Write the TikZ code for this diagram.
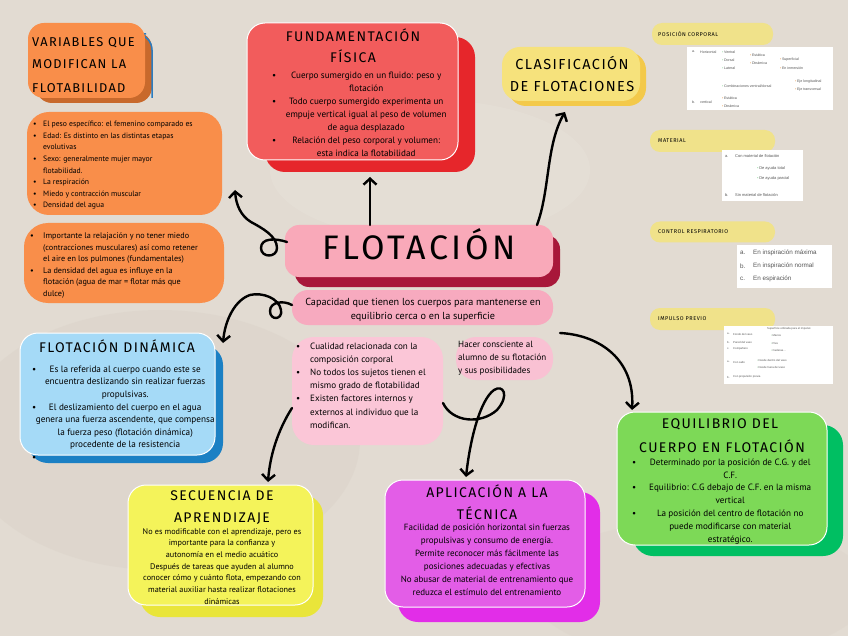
\documentclass[tikz,border=0pt]{standalone}
\usepackage{fontspec}
\setmainfont{PT Sans}
\newfontfamily\ttl[LetterSpace=10]{Fira Sans}
\newfontfamily\tbl{Liberation Sans}
\usetikzlibrary{arrows.meta,calc}
\definecolor{bgc}{HTML}{E2DBD2}
\definecolor{bgd}{HTML}{D3CBC0}
\definecolor{bgl}{HTML}{EBE6DF}
\definecolor{orc}{HTML}{F98E4A}
\definecolor{ors}{HTML}{C8692C}
\definecolor{orb}{HTML}{2B7CC0}
\definecolor{rdc}{HTML}{F25C5C}
\definecolor{rds}{HTML}{E6262B}
\definecolor{ylc}{HTML}{F6E27C}
\definecolor{yls}{HTML}{F3C94A}
\definecolor{pillc}{HTML}{F0E28A}
\definecolor{pkc}{HTML}{F9A9B9}
\definecolor{pks}{HTML}{A8173A}
\definecolor{capc}{HTML}{F7AABF}
\definecolor{lpk}{HTML}{FBC6D7}
\definecolor{lpk2}{HTML}{F9C1D3}
\definecolor{blc}{HTML}{A5DAF7}
\definecolor{bls}{HTML}{1B80C4}
\definecolor{sqc}{HTML}{F4F35A}
\definecolor{sqs}{HTML}{E9E53A}
\definecolor{mgc}{HTML}{E35DE7}
\definecolor{mgs}{HTML}{E22DE8}
\definecolor{grc}{HTML}{7DD957}
\definecolor{grs}{HTML}{00BF62}
\definecolor{tabc}{HTML}{555555}
\definecolor{dotg}{HTML}{8FD69A}
\definecolor{doto}{HTML}{E9A15A}
\newcommand\gd{\textcolor{dotg}{\textbullet}\,}
\newcommand\od{\textcolor{doto}{\textbullet}\,}
\newcommand\cbl[2]{\makebox[12pt][l]{\textbullet}\makebox[#1][c]{#2}}
\newcommand\cnl[2]{\hspace*{12pt}\makebox[#1][c]{#2}}
\newcommand\lbl[2]{\makebox[#1][l]{\textbullet}#2}
\newcommand\lnl[2]{\hspace*{#1}#2}
\begin{document}
\begin{tikzpicture}[x=1pt,y=-1pt,
  conn/.style={draw=black, line width=2.4pt, line cap=round, line join=round, -{Straight Barb[length=6pt,width=13pt]}},
  box/.style={rounded corners=18pt, draw=white, line width=1pt, inner sep=0, outer sep=0},
  pill/.style={rounded corners=10pt, fill=pillc, inner sep=0},
  ttlA/.style={inner sep=0, font=\ttl\fontsize{14}{16}\selectfont, anchor=base},
  pilltxt/.style={inner sep=0, anchor=west, font=\ttl\fontsize{5.5}{6}\selectfont},
  body/.style={inner sep=0, align=left, anchor=north west},
  tab/.style={fill=white, inner sep=0},
  tt/.style={inner sep=0, anchor=west, text=tabc, font=\tbl\fontsize{3.6}{4}\selectfont},
]
\useasboundingbox (0,0) rectangle (848,636);
\fill[bgc] (0,0) rectangle (848,636);
\fill[bgd, opacity=0.25] (160,440) ellipse (200 and 130);
\fill[bgd, opacity=0.2] (700,590) ellipse (170 and 70);
\fill[bgl, opacity=0.3] (430,170) ellipse (160 and 70);

% ---------- VARIABLES ----------
\fill[ors, rounded corners=16pt] (36,32) rectangle (152,103);
\draw[orb, line width=1.5pt, rounded corners=16pt] (146,34) -- (152,34) -- (152,98);
\node[box, draw=none, rounded corners=16pt, fill=orc, minimum width=117pt, minimum height=75pt] (vart) at (86.5,60.5) {};
\node[ttlA, anchor=base west, font=\ttl\fontsize{12.8}{15}\selectfont] (vt1) at (32,47) {VARIABLES QUE};
\node[ttlA, anchor=base west, font=\ttl\fontsize{12.8}{15}\selectfont] (vt2) at (32,69) {MODIFICAN LA};
\node[ttlA, anchor=base west, font=\ttl\fontsize{12.8}{15}\selectfont] (vt3) at (32,93) {FLOTABILIDAD};

\node[box, draw=none, rounded corners=22pt, fill=orc, minimum width=195pt, minimum height=103pt] (var1) at (124.5,163.5) {};
\node[body, font=\fontsize{7.7}{11.6}\selectfont] (var1t) at (33,121) {%
\lbl{10pt}{El peso específico: el femenino comparado es}\\
\lbl{10pt}{Edad: Es distinto en las distintas etapas}\\
\lnl{10pt}{evolutivas}\\
\lbl{10pt}{Sexo: generalmente mujer mayor}\\
\lnl{10pt}{flotabilidad.}\\
\lbl{10pt}{La respiración}\\
\lbl{10pt}{Miedo y contracción muscular}\\
\lbl{10pt}{Densidad del agua}};

\node[box, draw=none, rounded corners=24pt, fill=orc, minimum width=200pt, minimum height=80pt] (var2) at (124,263) {};
\node[body, font=\fontsize{8.2}{11.5}\selectfont] (var2t) at (30,232.5) {%
\lbl{13pt}{Importante la relajación y no tener miedo}\\
\lnl{13pt}{(contracciones musculares) así como retener}\\
\lnl{13pt}{el aire en los pulmones (fundamentales)}\\
\lbl{13pt}{La densidad del agua es influye en la}\\
\lnl{13pt}{flotación (agua de mar = flotar más que}\\
\lnl{13pt}{dulce)}};

% ---------- FUNDAMENTACION ----------
\fill[rds, rounded corners=20pt] (265,37) rectangle (475,172);
\node[box, fill=rdc, minimum width=211pt, minimum height=137pt] (fund) at (352.5,91.5) {};
\node[ttlA] (ft1) at (353,42) {FUNDAMENTACIÓN};
\node[ttlA] (ft2) at (353,63) {FÍSICA};
\node[body, font=\fontsize{9.1}{13}\selectfont] (fundt) at (272,72) {%
\cbl{164pt}{Cuerpo sumergido en un fluido: peso y}\\
\cnl{164pt}{flotación}\\
\cbl{164pt}{Todo cuerpo sumergido experimenta un}\\
\cnl{164pt}{empuje vertical igual al peso de volumen}\\
\cnl{164pt}{de agua desplazado}\\
\cbl{164pt}{Relación del peso corporal y volumen:}\\
\cnl{164pt}{esta indica la flotabilidad}};

% ---------- CLASIFICACION ----------
\fill[yls, rounded corners=18pt] (508,52) rectangle (646,106);
\node[box, draw=none, fill=ylc, minimum width=138pt, minimum height=54pt] (clas) at (571,74) {};
\node[ttlA, font=\ttl\fontsize{14.5}{16}\selectfont] (ct1) at (572,70) {CLASIFICACIÓN};
\node[ttlA, font=\ttl\fontsize{14.5}{16}\selectfont] (ct2) at (572,92) {DE FLOTACIONES};

% ---------- RIGHT PANELS ----------
\node[pill, minimum width=121pt, minimum height=22pt] (posp) at (712.5,34) {};
\node[pilltxt] (posl) at (658,34) {POSICIÓN CORPORAL};
\node[tab, minimum width=146pt, minimum height=63pt] (post) at (760,78.5) {};
\foreach \x/\y/\t [count=\i] in {692/52/a., 700/52/Horizontal, 722/52/{\gd Ventral}, 722/60/{\gd Dorsal}, 722/68/{\gd Lateral}, 750/55/{\od Estática}, 750/63/{\od Dinámica}, 780/60/{\od Superficial}, 780/68/{\od En inmersión}, 722/86/{\gd Combinaciones ventral/dorsal}, 795/82/{\od Eje longitudinal}, 795/90/{\od Eje transversal}, 692/102/b., 700/102/vertical, 722/98/{\od Estática}, 722/106/{\od Dinámica}}
  \node[tt] (pt\i) at (\x,\y) {\t};

\node[pill, minimum width=125pt, minimum height=22pt] (matp) at (712.5,141) {};
\node[pilltxt] (matl) at (658,141) {MATERIAL};
\node[tab, minimum width=81pt, minimum height=51pt] (matt) at (762.5,175.5) {};
\foreach \x/\y/\t [count=\i] in {725/156/a., 735/156/{Con material de flotación}, 757/168/{\gd De ayuda total}, 757/178/{\gd De ayuda parcial}, 725/195/b., 735/195/{Sin material de flotación}}
  \node[tt, font=\tbl\fontsize{4}{5}\selectfont] (mt\i) at (\x,\y) {\t};

\node[pill, minimum width=125pt, minimum height=21pt] (resp) at (712.5,232) {};
\node[pilltxt] (resl) at (658,232) {CONTROL RESPIRATORIO};
\node[tab, minimum width=95pt, minimum height=43pt] (rest) at (784.5,266.5) {};
\foreach \x/\y/\t [count=\i] in {740/253/a., 753/253/{En inspiración máxima}, 740/266/b., 753/266/{En inspiración normal}, 740/279/c., 753/279/{En espiración}}
  \node[tt, font=\tbl\fontsize{6.3}{7}\selectfont] (rt\i) at (\x,\y) {\t};

\node[pill, minimum width=125pt, minimum height=22pt] (impp) at (712.5,319) {};
\node[pilltxt] (impl) at (658,319) {IMPULSO PREVIO};
\node[tab, minimum width=109pt, minimum height=58pt] (impt) at (778.5,355) {};
\foreach \x/\y/\t [count=\i] in {727/334/a., 733/334/{Fondo del vaso}, 727/342/b., 733/342/{Pared del vaso}, 727/349/c., 733/349/{Compañero}, 767/329/{Superficie utilizada para el impulso:}, 771/336/{\gd Manos}, 771/343/{\gd Pies}, 771/350/{\gd Caderas\ldots}, 727/362/a., 733/362/{Con salto}, 757/360/{\gd Desde dentro del vaso}, 757/367/{\gd Desde fuera del vaso}, 727/377/b., 733/377/{Con propulsión previa}}
  \node[tt, font=\tbl\fontsize{2.8}{3}\selectfont] (it\i) at (\x,\y) {\t};

% ---------- FLOTACION ----------
\fill[pks, rounded corners=14pt] (295,235) rectangle (560,287);
\node[box, draw=none, rounded corners=14pt, fill=pkc, minimum width=268pt, minimum height=52pt] (flot) at (419,251) {};
\node[inner sep=0, anchor=base, font=\ttl\fontsize{34}{36}\selectfont] (flott) at (419,260) {FLOTACIÓN};

\node[box, draw=none, rounded corners=16pt, fill=capc, minimum width=261pt, minimum height=35pt] (cap) at (422.5,307.5) {};
\node[inner sep=0, align=center, font=\fontsize{10.2}{14}\selectfont] (capt) at (423,310) {Capacidad que tienen los cuerpos para mantenerse en\\equilibrio cerca o en la superficie};

\node[box, draw=none, rounded corners=22pt, fill=lpk, minimum width=151pt, minimum height=108pt] (list) at (367.5,391) {};
\node[body, font=\fontsize{9.1}{13.2}\selectfont] (listt) at (296,342.5) {%
\lbl{14pt}{Cualidad relacionada con la}\\
\lnl{14pt}{composición corporal}\\
\lbl{14pt}{No todos los sujetos tienen el}\\
\lnl{14pt}{mismo grado de flotabilidad}\\
\lbl{14pt}{Existen factores internos y}\\
\lnl{14pt}{externos al individuo que la}\\
\lnl{14pt}{modifican.}};

\node[box, draw=none, rounded corners=20pt, fill=lpk2, minimum width=97pt, minimum height=43pt] (hacer) at (504.5,358.5) {};
\node[body, font=\fontsize{9}{13}\selectfont] (hacert) at (458,340.5) {Hacer consciente al\\alumno de su flotación\\y sus posibilidades};

% ---------- FLOTACION DINAMICA ----------
\fill[bls, rounded corners=20pt] (28,345) rectangle (223,463);
\node[box, fill=blc, minimum width=195pt, minimum height=122pt] (din) at (117.5,394) {};
\node[ttlA] (dt1) at (117,352) {FLOTACIÓN DINÁMICA};
\node[body, font=\fontsize{9.2}{12.6}\selectfont] (dint) at (32,365.5) {%
\cbl{162pt}{Es la referida al cuerpo cuando este se}\\
\cnl{162pt}{encuentra deslizando sin realizar fuerzas}\\
\cnl{162pt}{propulsivas.}\\
\cbl{162pt}{El deslizamiento del cuerpo en el agua}\\
\cnl{162pt}{genera una fuerza ascendente, que compensa}\\
\cnl{162pt}{la fuerza peso (flotación dinámica)}\\
\cnl{162pt}{procedente de la resistencia}\\
\cbl{162pt}{}};

% ---------- SECUENCIA ----------
\fill[sqs, rounded corners=20pt] (140,495) rectangle (323,617);
\node[box, fill=sqc, minimum width=185pt, minimum height=120pt] (sec) at (220.5,545) {};
\node[ttlA] (st1) at (222,500) {SECUENCIA DE};
\node[ttlA] (st2) at (222,522) {APRENDIZAJE};
\node[inner sep=0, align=center, anchor=north, font=\fontsize{8.2}{11.7}\selectfont] (sect) at (222,528) {%
No es modificable con el aprendizaje, pero es\\
importante para la confianza y\\
autonomía en el medio acuático\\
Después de tareas que ayuden al alumno\\
conocer cómo y cuánto flota, empezando con\\
material auxiliar hasta realizar flotaciones\\
dinámicas};

% ---------- APLICACION ----------
\fill[mgs, rounded corners=20pt] (398,492) rectangle (600,622);
\node[box, fill=mgc, minimum width=200pt, minimum height=127pt] (apl) at (485,543.5) {};
\node[ttlA] (at1) at (487,497) {APLICACIÓN A LA};
\node[ttlA] (at2) at (487,519) {TÉCNICA};
\node[inner sep=0, align=center, anchor=north, font=\fontsize{9}{13}\selectfont] (aplt) at (487,523.5) {%
Facilidad de posición horizontal sin fuerzas\\
propulsivas y consumo de energía.\\
Permite reconocer más fácilmente las\\
posiciones adecuadas y efectivas\\
No abusar de material de entrenamiento que\\
reduzca el estímulo del entrenamiento};

% ---------- EQUILIBRIO ----------
\fill[grs, rounded corners=20pt] (633,425) rectangle (843,556);
\node[box, fill=grc, minimum width=210pt, minimum height=133pt] (equ) at (722,478.5) {};
\node[ttlA] (et1) at (720,428) {EQUILIBRIO DEL};
\node[ttlA] (et2) at (722,452) {CUERPO EN FLOTACIÓN};
\node[body, font=\fontsize{9.1}{12.8}\selectfont] (equt) at (632,458.5) {%
\cbl{172pt}{Determinado por la posición de C.G. y del}\\
\cnl{172pt}{C.F.}\\
\cbl{172pt}{Equilibrio: C.G debajo de C.F. en la misma}\\
\cnl{172pt}{vertical}\\
\cbl{172pt}{La posición del centro de flotación no}\\
\cnl{172pt}{puede modificarse con material}\\
\cnl{172pt}{estratégico.}};

% ---------- CONNECTORS ----------
\draw[conn] ([xshift=-49pt]flot.north) -- ([shift={(17.5pt,-17pt)}]fund.south);
\draw[conn] ([shift={(2pt,-17pt)}]flot.north west) .. controls (275,238) and (261,238) .. (261,248)
  .. controls (261,258) and (277,258) .. (277,248)
  .. controls (277,236) and (262,228) .. (251,222)
  .. controls (241,216) and (236,205) .. ([shift={(13pt,-26.5pt)}]var1.east);
\draw[conn] ([xshift=-16pt]flot.north east) .. controls (550,190) and (546,145) .. ([shift={(-6pt,-11pt)}]clas.south);
\draw[conn] ([yshift=2.5pt]cap.west) .. controls (283,300) and (270,302) .. (270,311)
  .. controls (270,321) and (283,320) .. (281,310)
  .. controls (279,298) and (262,292) .. (250,295)
  .. controls (235,300) and (225,320) .. ([shift={(8pt,-10pt)}]din.north east);
\draw[conn] ([yshift=-17pt]list.west) .. controls (278,430) and (270,455) .. ([shift={(47.5pt,3pt)}]sec.north);
\draw[conn] ([yshift=-12pt]list.east) .. controls (452,422) and (480,425) .. (497,410)
  .. controls (510,395) and (503,384) .. (494,390)
  .. controls (480,400) and (470,440) .. ([shift={(-19pt,3pt)}]apl.north);
\draw[conn] ([shift={(7pt,-8pt)}]cap.south east) .. controls (600,335) and (635,360) .. ([shift={(15pt,2pt)}]equ.north west);
\end{tikzpicture}
\end{document}
